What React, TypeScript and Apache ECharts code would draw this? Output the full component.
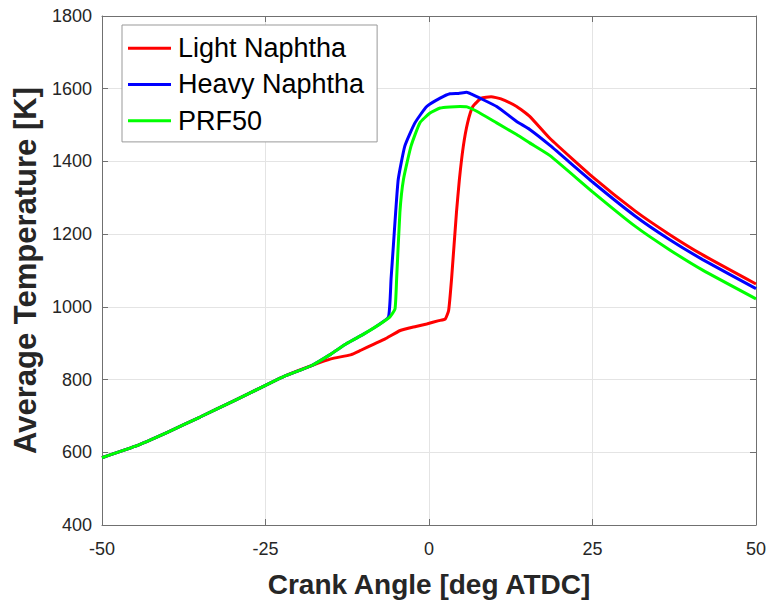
import React, { useEffect, useRef } from "react";
import * as echarts from "echarts";

const seriesNames = ["Light Naphtha", "Heavy Naphtha", "PRF50"];
const seriesColors = ["#ff0000", "#0000ff", "#00ff00"];

const xTicks = [-50, -25, 0, 25, 50];
const yTicks = [400, 600, 800, 1000, 1200, 1400, 1600, 1800];

const lightX = [-50, -45, -40, -35, -30, -25, -22, -18, -15, -12, -10.5, -8.5, -6.7, -4.4, -2, -0.35, 1.5, 2.5, 3.0, 3.45, 4.2, 4.65, 5.25, 5.9, 6.7, 8, 9.5, 11, 13.4, 15.4, 18.5, 25.1, 31.5, 36.7, 41.85, 50];
const lightT = [585, 616, 655, 697, 740, 784, 810, 838, 857, 868, 880, 897, 912, 935, 946, 953, 962, 967, 990, 1077, 1260, 1351, 1442, 1506, 1551, 1574, 1578, 1572, 1551, 1524, 1463, 1356, 1264, 1200, 1143, 1063];

const heavyX = [-50, -45, -40, -35, -30, -25, -22, -18, -15, -12.6, -10, -8, -6.2, -5.8, -5.45, -5.1, -4.7, -3.7, -2.15, -0.35, 1.7, 3.2, 4.5, 5.75, 6.5, 7.8, 10.35, 13.4, 15.4, 18.5, 25.1, 31.5, 36.7, 41.85, 50];
const heavyT = [585, 616, 655, 697, 740, 784, 810, 838, 870, 899, 925, 947, 972, 1077, 1168, 1260, 1351, 1442, 1506, 1551, 1574, 1586, 1587, 1590, 1585, 1574, 1551, 1510, 1488, 1444, 1342, 1250, 1186, 1130, 1050];

const prfX = [-50, -45, -40, -35, -30, -25, -22, -18, -15, -12.6, -10, -8, -6, -5.2, -4.95, -4.45, -3.9, -2.75, -1.4, 0.15, 1.7, 3.2, 4.75, 5.8, 7.3, 10.35, 13.4, 15.4, 18.5, 25.1, 31.5, 36.7, 41.85, 50];
const prfT = [585, 616, 655, 697, 740, 784, 810, 838, 870, 899, 925, 947, 972, 994, 1077, 1260, 1351, 1442, 1506, 1533, 1547, 1550, 1551, 1550, 1538, 1506, 1474, 1451, 1416, 1315, 1222, 1158, 1101, 1022];

const FONT = "'Liberation Sans', Arial, Helvetica, sans-serif";
const AXIS_COLOR = "#707070";
const LABEL_COLOR = "#262626";

function zip(xs: number[], ys: number[]) {
  return xs.map((x, i) => [x, ys[i]]);
}

export default function App() {
  const ref = useRef<HTMLDivElement>(null);
  useEffect(() => {
    if (!ref.current) return;
    const chart = echarts.init(ref.current, undefined, { renderer: "svg" });
    const xs = [lightX, heavyX, prfX];
    const ys = [lightT, heavyT, prfT];
    const axisCommonX = {
      type: "value" as const,
      min: xTicks[0],
      max: xTicks[xTicks.length - 1],
      interval: 25,
    };
    const axisCommonY = {
      type: "value" as const,
      min: yTicks[0],
      max: yTicks[yTicks.length - 1],
      interval: 200,
    };
    const plain = (v: number) => String(v);
    chart.setOption({
      animation: false,
      backgroundColor: "#ffffff",
      grid: { left: 102, right: 14, top: 16, bottom: 76, containLabel: false },
      legend: {
        orient: "vertical",
        left: 122,
        top: 25,
        data: seriesNames,
        icon: "rect",
        itemWidth: 43,
        itemHeight: 3,
        itemGap: 0,
        padding: [5, 13, 3, 6],
        backgroundColor: "#ffffff",
        borderColor: "#999999",
        borderWidth: 1,
        borderRadius: 0,
        textStyle: {
          fontFamily: FONT,
          fontSize: 27,
          color: "#000000",
          lineHeight: 36.3,
          padding: [0, 0, 0, 2],
        },
      },
      xAxis: [
        {
          ...axisCommonX,
          position: "bottom",
          name: "Crank Angle [deg ATDC]",
          nameLocation: "middle",
          nameGap: 45,
          nameTextStyle: { fontFamily: FONT, fontSize: 28, fontWeight: "bold", color: LABEL_COLOR },
          axisLine: { show: true, onZero: false, lineStyle: { color: AXIS_COLOR, width: 1 } },
          axisTick: { show: true, inside: true, length: 6, lineStyle: { color: AXIS_COLOR } },
          axisLabel: { fontFamily: FONT, fontSize: 18, color: LABEL_COLOR, margin: 15, formatter: plain },
          splitLine: { show: true, lineStyle: { color: "#e4e4e4", width: 1 } },
        },
        {
          ...axisCommonX,
          position: "top",
          axisLine: { show: true, onZero: false, lineStyle: { color: AXIS_COLOR, width: 1 } },
          axisTick: { show: true, inside: true, length: 6, lineStyle: { color: AXIS_COLOR } },
          axisLabel: { show: false },
          splitLine: { show: false },
        },
      ],
      yAxis: [
        {
          ...axisCommonY,
          position: "left",
          name: "Average Temperature [K]",
          nameLocation: "middle",
          nameGap: 44,
          nameRotate: 90,
          nameTextStyle: { fontFamily: FONT, fontSize: 31, fontWeight: "bold", color: LABEL_COLOR },
          axisLine: { show: true, onZero: false, lineStyle: { color: AXIS_COLOR, width: 1 } },
          axisTick: { show: true, inside: true, length: 6, lineStyle: { color: AXIS_COLOR } },
          axisLabel: { fontFamily: FONT, fontSize: 18, color: LABEL_COLOR, margin: 10, formatter: plain },
          splitLine: { show: true, lineStyle: { color: "#e4e4e4", width: 1 } },
        },
        {
          ...axisCommonY,
          position: "right",
          axisLine: { show: true, onZero: false, lineStyle: { color: AXIS_COLOR, width: 1 } },
          axisTick: { show: true, inside: true, length: 6, lineStyle: { color: AXIS_COLOR } },
          axisLabel: { show: false },
          splitLine: { show: false },
        },
      ],
      series: seriesNames.map((name, i) => ({
        name,
        type: "line",
        xAxisIndex: 0,
        yAxisIndex: 0,
        data: zip(xs[i], ys[i]),
        showSymbol: false,
        symbol: "none",
        smooth: 0.15,
        color: seriesColors[i],
        lineStyle: { color: seriesColors[i], width: 3 },
      })),
    });
    return () => chart.dispose();
  }, []);
  return (
    <div
      ref={ref}
      style={{ position: "fixed", left: 0, top: 0, width: 770, height: 603, background: "#fff" }}
    />
  );
}
